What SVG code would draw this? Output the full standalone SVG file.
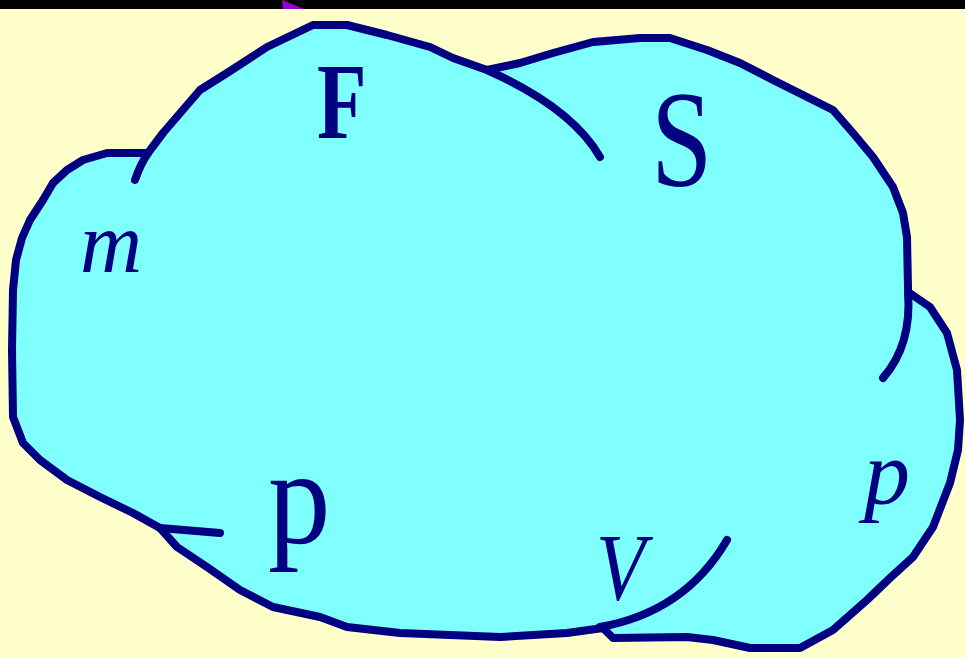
<svg xmlns="http://www.w3.org/2000/svg" width="965" height="658" viewBox="0 0 965 658">
<style>
.outline{fill:#80FFFF;stroke:#000080;stroke-width:8;stroke-linejoin:round;stroke-linecap:round}
.inner{fill:none;stroke:#000080;stroke-width:8;stroke-linejoin:round;stroke-linecap:round}
.lbl{fill:#000080;font-family:"Liberation Serif","Times New Roman",Times,serif}
</style>
<rect x="0" y="0" width="965" height="658" fill="#FFFFCC"/>
<rect x="0" y="0" width="965" height="9" fill="#000000"/>
<polygon points="282,0 304,9 283,9" fill="#9900CC"/>
<g id="cloud">
<path class="outline" d="M30,220 L43,200 L53,183 L67,170 L83,160 L107,153 L148,153 L163,133 L200,90 L227,73 L267,47 L313,25 L347,25 L387,35 L430,47 L453,58 L487,70 L520,63 L553,53 L593,42 L640,38 L670,38 L707,50 L740,63 L773,80 L807,97 L833,110 L853,133 L873,157 L893,187 L903,213 L907,237 L908,287 L908,292 L930,307 L947,333 L957,370 L960,420 L958,450 L950,483 L933,527 L913,557 L890,578 L867,600 L833,630 L800,648 L750,648 L713,640 L687,637 L613,638 L603,628 L567,633 L500,637 L400,633 L347,627 L320,617 L273,607 L240,590 L207,567 L177,547 L160,528 L133,513 L100,497 L67,480 L40,460 L23,443 L13,417 L12,350 L13,290 L16,260 L22,238 Z"/>
</g>
<g id="connectors">
<path class="inner" d="M148,153 Q140,165 135,180"/>
<path class="inner" d="M487,70 Q572,108 600,157"/>
<path class="inner" d="M908,292 Q912,345 883,378"/>
<path class="inner" d="M160,528 L220,533"/>
<path class="inner" d="M600,627 Q685,612 727,540"/>
</g>
<g id="label-F"><text class="lbl" font-weight="bold" font-size="108" transform="translate(317,138) scale(0.75,1)">F</text></g>
<g id="label-S"><text class="lbl" font-size="138" transform="translate(651,186) scale(0.8,1)">S</text></g>
<g id="label-m"><text class="lbl" font-style="italic" font-size="86" x="80" y="272">m</text></g>
<g id="label-p1"><text class="lbl" font-size="136" transform="translate(268,543) scale(0.92,1)">p</text></g>
<g id="label-V"><text class="lbl" font-style="italic" font-size="95" transform="translate(596,600) scale(0.85,1)">V</text></g>
<g id="label-p2"><text class="lbl" font-style="italic" font-size="92" x="864" y="504">p</text></g>
</svg>
